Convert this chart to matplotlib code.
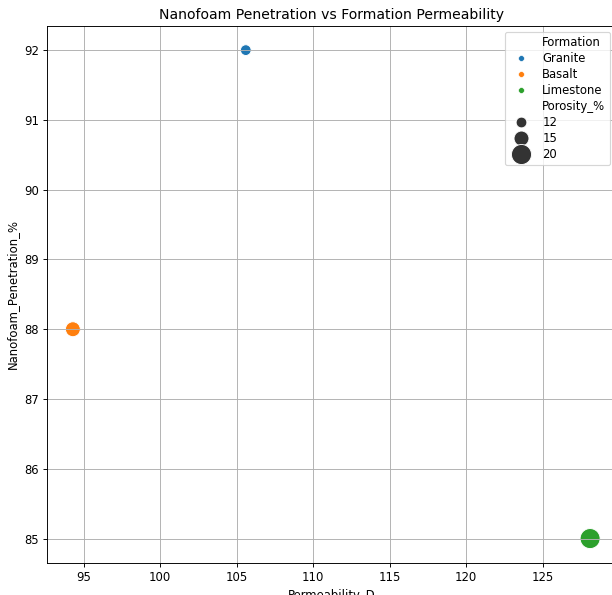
import numpy as np
import pandas as pd
import matplotlib
matplotlib.use("Agg")
import matplotlib.pyplot as plt
from matplotlib.lines import Line2D
import seaborn as sns

# Datos
formaciones = ["Granite", "Basalt", "Limestone"]
permeabilidad = [105.6, 94.3, 128.1]
penetracion = [92, 88, 85]
porosidad = [12, 15, 20]

df = pd.DataFrame({
    "Formation": formaciones,
    "Permeability_D": permeabilidad,
    "Nanofoam_Penetration_%": penetracion,
    "Porosity_%": porosidad,
})

tamanos = (85, 295)

# dpi menor para que el texto quede del tamano del original
dpi = 84
fig = plt.figure(figsize=(612 / dpi, 595 / dpi), dpi=dpi)
# el original esta recortado a la derecha y abajo
ax = fig.add_axes([0.0768, 0.0538, 0.9297, 0.903])

sns.scatterplot(data=df, x="Permeability_D", y="Nanofoam_Penetration_%",
                hue="Formation", size="Porosity_%", sizes=tamanos, ax=ax)

ax.set_title("Nanofoam Penetration vs Formation Permeability")
ax.grid(True)

# Leyenda con Line2D para que las filas queden compactas como en el original
colores = sns.color_palette()
vacio = Line2D([], [], linestyle="none", marker="")
handles = [vacio]
labels = ["Formation"]
for i, f in enumerate(formaciones):
    handles.append(Line2D([], [], linestyle="none", marker="o", ms=5,
                          color=colores[i], markeredgecolor="w", markeredgewidth=0.5))
    labels.append(f)
handles.append(vacio)
labels.append("Porosity_%")
pmin, pmax = min(porosidad), max(porosidad)
for p in sorted(porosidad):
    s = tamanos[0] + (p - pmin) / (pmax - pmin) * (tamanos[1] - tamanos[0])
    handles.append(Line2D([], [], linestyle="none", marker="o", ms=np.sqrt(s),
                          color=".2", markeredgecolor="w", markeredgewidth=0.75))
    labels.append(str(p))
ax.legend(handles, labels, loc="upper right", labelspacing=0.25)

fig.savefig("out.png", dpi=dpi)
